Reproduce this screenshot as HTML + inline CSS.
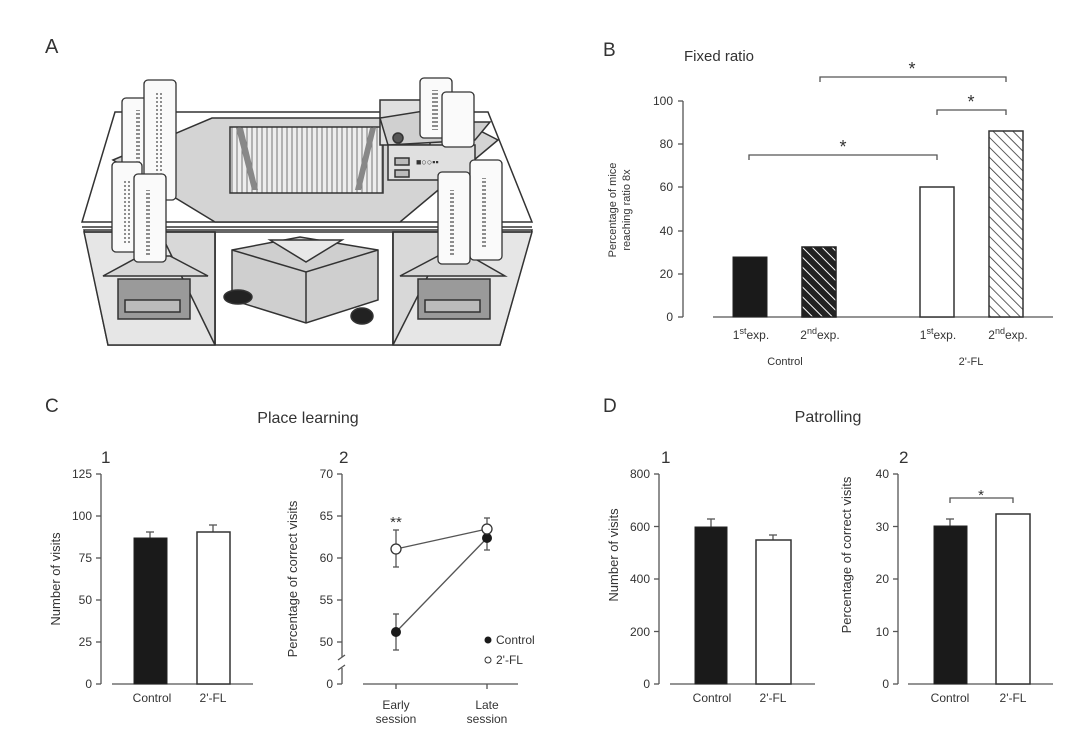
<!DOCTYPE html>
<html><head><meta charset="utf-8"><style>
html,body{margin:0;padding:0;background:#fff;}
svg{display:block;font-family:"Liberation Sans",Arial,sans-serif;}
text{fill:#333;}
</style></head><body>
<svg width="1080" height="752" viewBox="0 0 1080 752" xmlns="http://www.w3.org/2000/svg">
<defs>
<pattern id="hD" width="7" height="7" patternUnits="userSpaceOnUse" patternTransform="rotate(-45)">
<rect width="7" height="7" fill="#222"/><line x1="0" y1="0" x2="0" y2="7" stroke="#fff" stroke-width="2"/></pattern>
<pattern id="hW" width="7" height="7" patternUnits="userSpaceOnUse" patternTransform="rotate(-45)">
<rect width="7" height="7" fill="#fff"/><line x1="0" y1="0" x2="0" y2="7" stroke="#333" stroke-width="1.6"/></pattern>
<pattern id="grid" width="5" height="70" patternUnits="userSpaceOnUse">
<rect width="5" height="70" fill="#eee"/><line x1="2" y1="0" x2="2" y2="70" stroke="#777" stroke-width="1"/></pattern>
<pattern id="scale" width="8" height="4" patternUnits="userSpaceOnUse">
<line x1="0" y1="2" x2="6" y2="2" stroke="#444" stroke-width="1.2"/></pattern>
</defs>

<!-- Panel A -->
<text x="45" y="53" font-size="20" fill="#222">A</text>
<g stroke="#333" stroke-width="1.5" fill="none">
<polygon points="84,230 532,230 500,345 108,345" fill="#fff"/>
<polygon points="84,232 215,232 215,345 108,345" fill="#e6e6e6"/>
<polygon points="393,232 532,232 500,345 393,345" fill="#e6e6e6"/>
<polygon points="160,232 215,232 215,345" fill="#d8d8d8"/>
<polygon points="393,232 450,232 393,345" fill="#d8d8d8"/>
<line x1="215" y1="232" x2="215" y2="345"/><line x1="393" y1="232" x2="393" y2="345"/>
<polygon points="115,112 488,112 532,222 82,222"/>
<line x1="82" y1="227" x2="532" y2="227"/><line x1="84" y1="232" x2="530" y2="232"/>
<polygon points="113,160 212,118 455,118 498,140 400,222 215,222" fill="#d4d4d4"/>
<rect x="230" y="127" width="153" height="66" fill="url(#grid)"/>
<polygon points="243,128 258,190 252,190 236,128" fill="#888" stroke="none"/>
<polygon points="370,128 355,190 361,190 376,128" fill="#888" stroke="none"/>
<polygon points="232,250 300,237 378,250 378,300 306,323 232,300" fill="#cfcfcf"/>
<polyline points="232,250 306,272 378,250"/><line x1="306" y1="272" x2="306" y2="323"/>
<polygon points="270,240 306,262 342,240" fill="#e8e8e8"/>
<ellipse cx="238" cy="297" rx="14" ry="7" fill="#222"/>
<ellipse cx="362" cy="316" rx="11" ry="8" fill="#222"/>
<polygon points="103,276 208,276 170,256 140,256" fill="#d8d8d8"/>
<rect x="118" y="279" width="72" height="40" fill="#9a9a9a"/>
<rect x="125" y="300" width="55" height="12" fill="#bbb"/>
<polygon points="400,276 505,276 470,256 438,256" fill="#d8d8d8"/>
<rect x="418" y="279" width="72" height="40" fill="#9a9a9a"/>
<rect x="425" y="300" width="55" height="12" fill="#bbb"/>
<polygon points="380,100 430,100 430,145 380,145" fill="#e0e0e0"/>
<polygon points="388,145 475,140 490,122 440,122 430,110 380,118" fill="#d0d0d0"/>
<rect x="388" y="145" width="87" height="35" fill="#e0e0e0"/>
<circle cx="398" cy="138" r="5" fill="#555"/>
<rect x="395" y="158" width="14" height="7" fill="#bbb"/><rect x="395" y="170" width="14" height="7" fill="#bbb"/>
</g>
<text x="416" y="165" font-size="9" fill="#222">■○○▪▪</text>
<g stroke="#333" stroke-width="1.3">
<rect x="122" y="98" width="30" height="120" rx="4" fill="#fafafa"/><rect x="134" y="110" width="6" height="90" fill="url(#scale)" stroke="none"/>
<rect x="144" y="80" width="32" height="120" rx="4" fill="#fafafa"/><rect x="156" y="92" width="6" height="90" fill="url(#scale)" stroke="none"/>
<rect x="112" y="162" width="30" height="90" rx="4" fill="#fafafa"/><rect x="124" y="180" width="6" height="65" fill="url(#scale)" stroke="none"/>
<rect x="134" y="174" width="32" height="88" rx="4" fill="#fafafa"/><rect x="146" y="190" width="6" height="65" fill="url(#scale)" stroke="none"/>
<rect x="420" y="78" width="32" height="60" rx="4" fill="#fafafa"/><rect x="432" y="90" width="6" height="40" fill="url(#scale)" stroke="none"/>
<rect x="442" y="92" width="32" height="55" rx="4" fill="#fafafa"/>
<rect x="470" y="160" width="32" height="100" rx="4" fill="#fafafa"/><rect x="482" y="178" width="6" height="70" fill="url(#scale)" stroke="none"/>
<rect x="438" y="172" width="32" height="92" rx="4" fill="#fafafa"/><rect x="450" y="190" width="6" height="65" fill="url(#scale)" stroke="none"/>
</g>

<!-- Panel B -->
<text x="603" y="56" font-size="19" fill="#222">B</text>
<text x="684" y="61" font-size="15">Fixed ratio</text>
<g stroke="#555" stroke-width="1.3" fill="none">
<line x1="683" y1="101" x2="683" y2="317"/>
<line x1="713" y1="317" x2="1053" y2="317"/>
<line x1="678" y1="101" x2="683" y2="101"/><line x1="678" y1="144" x2="683" y2="144"/><line x1="678" y1="187" x2="683" y2="187"/><line x1="678" y1="231" x2="683" y2="231"/><line x1="678" y1="274" x2="683" y2="274"/><line x1="678" y1="317" x2="683" y2="317"/>
<polyline points="820,82 820,77 1006,77 1006,82"/>
<polyline points="937,115 937,110 1006,110 1006,115"/>
<polyline points="749,160 749,155 937,155 937,160"/>
</g>
<g font-size="12" text-anchor="end" fill="#444">
<text x="673" y="105">100</text><text x="673" y="148">80</text><text x="673" y="191">60</text><text x="673" y="235">40</text><text x="673" y="278">20</text><text x="673" y="321">0</text>
</g>
<text transform="translate(616,210) rotate(-90)" font-size="11" text-anchor="middle">Percentage of mice</text>
<text transform="translate(630,210) rotate(-90)" font-size="11" text-anchor="middle">reaching ratio 8x</text>
<rect x="733" y="257" width="34" height="60" fill="#1a1a1a" stroke="#222"/>
<rect x="802" y="247" width="34" height="70" fill="url(#hD)" stroke="#222" stroke-width="1.5"/>
<rect x="920" y="187" width="34" height="130" fill="#fff" stroke="#333" stroke-width="1.5"/>
<rect x="989" y="131" width="34" height="186" fill="url(#hW)" stroke="#333" stroke-width="1.5"/>
<g font-size="18" text-anchor="middle" fill="#333"><text x="912" y="75">*</text><text x="971" y="108">*</text><text x="843" y="153">*</text></g>
<g font-size="12" text-anchor="middle">
<text x="751" y="339">1<tspan dy="-5" font-size="9">st</tspan><tspan dy="5">exp.</tspan></text>
<text x="820" y="339">2<tspan dy="-5" font-size="9">nd</tspan><tspan dy="5">exp.</tspan></text>
<text x="938" y="339">1<tspan dy="-5" font-size="9">st</tspan><tspan dy="5">exp.</tspan></text>
<text x="1008" y="339">2<tspan dy="-5" font-size="9">nd</tspan><tspan dy="5">exp.</tspan></text>
<text x="785" y="365" font-size="11">Control</text><text x="971" y="365" font-size="11">2'-FL</text>
</g>

<!-- Panel C -->
<text x="45" y="412" font-size="19" fill="#222">C</text>
<text x="308" y="423" font-size="16" text-anchor="middle">Place learning</text>
<text x="101" y="463" font-size="17" fill="#222">1</text>
<text x="339" y="463" font-size="17" fill="#222">2</text>
<g stroke="#555" stroke-width="1.3" fill="none">
<line x1="101" y1="474" x2="101" y2="684"/><line x1="112" y1="684" x2="253" y2="684"/>
<line x1="96" y1="474" x2="101" y2="474"/><line x1="96" y1="516" x2="101" y2="516"/><line x1="96" y1="558" x2="101" y2="558"/><line x1="96" y1="600" x2="101" y2="600"/><line x1="96" y1="642" x2="101" y2="642"/><line x1="96" y1="684" x2="101" y2="684"/>
<line x1="150" y1="538" x2="150" y2="532"/><line x1="146" y1="532" x2="154" y2="532"/>
<line x1="213" y1="532" x2="213" y2="525"/><line x1="209" y1="525" x2="217" y2="525"/>
<line x1="342" y1="474" x2="342" y2="657"/><line x1="342" y1="668" x2="342" y2="684"/>
<line x1="338" y1="660" x2="345" y2="655"/><line x1="338" y1="670" x2="345" y2="665"/>
<line x1="363" y1="684" x2="518" y2="684"/>
<line x1="337" y1="474" x2="342" y2="474"/><line x1="337" y1="516" x2="342" y2="516"/><line x1="337" y1="558" x2="342" y2="558"/><line x1="337" y1="600" x2="342" y2="600"/><line x1="337" y1="642" x2="342" y2="642"/><line x1="337" y1="684" x2="342" y2="684"/>
<line x1="396" y1="684" x2="396" y2="689"/><line x1="487" y1="684" x2="487" y2="689"/>
<line x1="396" y1="549" x2="487" y2="529"/><line x1="396" y1="632" x2="487" y2="538"/>
<line x1="396" y1="530" x2="396" y2="567"/><line x1="393" y1="530" x2="399" y2="530"/><line x1="393" y1="567" x2="399" y2="567"/>
<line x1="396" y1="614" x2="396" y2="650"/><line x1="393" y1="614" x2="399" y2="614"/><line x1="393" y1="650" x2="399" y2="650"/>
<line x1="487" y1="518" x2="487" y2="550"/><line x1="484" y1="518" x2="490" y2="518"/><line x1="484" y1="550" x2="490" y2="550"/>
</g>
<g font-size="12" text-anchor="end" fill="#444">
<text x="92" y="478">125</text><text x="92" y="520">100</text><text x="92" y="562">75</text><text x="92" y="604">50</text><text x="92" y="646">25</text><text x="92" y="688">0</text>
<text x="333" y="478">70</text><text x="333" y="520">65</text><text x="333" y="562">60</text><text x="333" y="604">55</text><text x="333" y="646">50</text><text x="333" y="688">0</text>
</g>
<text transform="translate(60,579) rotate(-90)" font-size="13" text-anchor="middle">Number of visits</text>
<text transform="translate(297,579) rotate(-90)" font-size="13" text-anchor="middle">Percentage of correct visits</text>
<rect x="134" y="538" width="33" height="146" fill="#1a1a1a" stroke="#222"/>
<rect x="197" y="532" width="33" height="152" fill="#fff" stroke="#333" stroke-width="1.5"/>
<circle cx="396" cy="632" r="5" fill="#1a1a1a"/><circle cx="487" cy="538" r="5" fill="#1a1a1a"/>
<circle cx="396" cy="549" r="5" fill="#fff" stroke="#333" stroke-width="1.3"/><circle cx="487" cy="529" r="5" fill="#fff" stroke="#333" stroke-width="1.3"/>
<text x="396" y="527" font-size="15" text-anchor="middle" fill="#222">**</text>
<circle cx="488" cy="640" r="3.5" fill="#1a1a1a"/><circle cx="488" cy="660" r="3" fill="#fff" stroke="#333"/>
<text x="496" y="644" font-size="12">Control</text><text x="496" y="664" font-size="12">2'-FL</text>
<g font-size="12" text-anchor="middle">
<text x="152" y="702">Control</text><text x="213" y="702">2'-FL</text>
<text x="396" y="709">Early</text><text x="396" y="723">session</text>
<text x="487" y="709">Late</text><text x="487" y="723">session</text>
<text x="712" y="702">Control</text><text x="773" y="702">2'-FL</text>
<text x="950" y="702">Control</text><text x="1013" y="702">2'-FL</text>
</g>

<!-- Panel D -->
<text x="603" y="412" font-size="19" fill="#222">D</text>
<text x="828" y="422" font-size="16" text-anchor="middle">Patrolling</text>
<text x="661" y="463" font-size="17" fill="#222">1</text>
<text x="899" y="463" font-size="17" fill="#222">2</text>
<g stroke="#555" stroke-width="1.3" fill="none">
<line x1="659" y1="474" x2="659" y2="684"/><line x1="670" y1="684" x2="815" y2="684"/>
<line x1="654" y1="474" x2="659" y2="474"/><line x1="654" y1="526.5" x2="659" y2="526.5"/><line x1="654" y1="579" x2="659" y2="579"/><line x1="654" y1="631.5" x2="659" y2="631.5"/><line x1="654" y1="684" x2="659" y2="684"/>
<line x1="711" y1="527" x2="711" y2="519"/><line x1="707" y1="519" x2="715" y2="519"/>
<line x1="773" y1="540" x2="773" y2="535"/><line x1="769" y1="535" x2="777" y2="535"/>
<line x1="898" y1="474" x2="898" y2="684"/><line x1="908" y1="684" x2="1053" y2="684"/>
<line x1="893" y1="474" x2="898" y2="474"/><line x1="893" y1="526.5" x2="898" y2="526.5"/><line x1="893" y1="579" x2="898" y2="579"/><line x1="893" y1="631.5" x2="898" y2="631.5"/><line x1="893" y1="684" x2="898" y2="684"/>
<line x1="950" y1="526" x2="950" y2="519"/><line x1="946" y1="519" x2="954" y2="519"/>
<polyline points="950,503 950,498 1013,498 1013,503"/>
</g>
<g font-size="12" text-anchor="end" fill="#444">
<text x="650" y="478">800</text><text x="650" y="531">600</text><text x="650" y="583">400</text><text x="650" y="636">200</text><text x="650" y="688">0</text>
<text x="889" y="478">40</text><text x="889" y="531">30</text><text x="889" y="583">20</text><text x="889" y="636">10</text><text x="889" y="688">0</text>
</g>
<text transform="translate(618,555) rotate(-90)" font-size="13" text-anchor="middle">Number of visits</text>
<text transform="translate(851,555) rotate(-90)" font-size="13" text-anchor="middle">Percentage of correct visits</text>
<rect x="695" y="527" width="32" height="157" fill="#1a1a1a" stroke="#222"/>
<rect x="756" y="540" width="35" height="144" fill="#fff" stroke="#333" stroke-width="1.5"/>
<rect x="934" y="526" width="33" height="158" fill="#1a1a1a" stroke="#222"/>
<rect x="996" y="514" width="34" height="170" fill="#fff" stroke="#333" stroke-width="1.5"/>
<text x="981" y="500" font-size="15" text-anchor="middle" fill="#222">*</text>
</svg>
</body></html>
